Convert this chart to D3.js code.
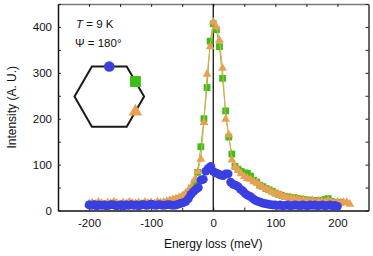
<!DOCTYPE html>
<html><head><meta charset="utf-8">
<script src="https://cdn.jsdelivr.net/npm/d3@7"></script>
<style>body{margin:0;background:#fff}svg{display:block;font-family:"Liberation Sans",Arial,sans-serif}</style>
</head><body><svg id="c" width="373" height="256"></svg>
<script>
// ---- data ----
const blueE = d3.range(-200, 205, 4);
const blueI = [12,11,13,10,12,11,12,10,11,13,12,10,11,12,10,12,11,13,11,12,10,12,13,11,12,14,12,11,13,12,11,12,13,12,11,12,
  14,16,17,20,26,35,41,46,50,66,68,86,92,96,85,82,80,77,76,80,80,62,57,55,52,46,42,36,33,30,26,22,20,18,16,15,14,13,12,
  12,11,12,10,11,12,10,11,12,11,10,12,11,10,12,11,12,10,11,12,10,11,12,10,11,9];
const orangeE = d3.range(-200, 225, 5);
const orangeI = [15,17,14,18,16,13,17,15,19,16,14,17,15,18,16,15,17,14,18,16,17,15,19,17,18,
  20,22,24,26,28,31,36,44,52,67,85,112,192,297,357,411,400,371,310,199,165,110,95,88,80,74,70,
  68,63,60,55,50,47,44,40,37,35,33,30,28,27,26,25,22,23,21,20,22,19,21,20,19,22,18,17,18,16,17,18,14];
const greenE = d3.range(-200, 210, 5);
const greenI = [13,15,12,16,14,12,15,13,16,14,12,15,13,16,14,13,15,12,16,14,15,13,16,15,16,
  18,20,22,24,26,29,34,40,49,60,83,139,200,268,369,407,394,357,288,217,160,123,96,90,85,82,81,
  75,66,62,55,52,48,45,42,38,35,33,31,30,28,28,26,25,24,22,23,21,22,20,22,24,26,20,18,17,18];
const xTicks = d3.range(-200, 201, 50);
const yTicks = d3.range(0, 451, 50);

// ---- chart ----
const svg = d3.select("#c");
const L = 58, R = 368.5, T = 4, B = 210.5;
const x = d3.scaleLinear().domain([-250, 250]).range([L, R]);
const y = d3.scaleLinear().domain([0, 450]).range([B, T]);
const fmt = d => d % 100 === 0 ? String(d) : "";
const C = {blue:"#3a3fe2", green:"#3cbf14", orange:"#eaa052"};

function styleAxis(g, col){
  g.select(".domain").attr("stroke", col).attr("stroke-width", 1.5);
  g.selectAll(".tick line").attr("stroke", "#222").attr("stroke-width", 1);
  g.selectAll(".tick text").attr("fill", "#111").attr("font-size", 11.5).attr("font-family", '"Liberation Sans",Arial,sans-serif');
}
svg.append("g").attr("transform", `translate(0,${B})`)
  .call(d3.axisBottom(x).tickValues(xTicks).tickSizeInner(-3).tickSizeOuter(0).tickPadding(8).tickFormat(fmt))
  .call(g => styleAxis(g, "#111"));
svg.append("g").attr("transform", `translate(0,${T})`)
  .call(d3.axisTop(x).tickValues(xTicks).tickSizeInner(-3).tickSizeOuter(0).tickFormat(""))
  .call(g => styleAxis(g, "#777"));
svg.append("g").attr("transform", `translate(${L},0)`)
  .call(d3.axisLeft(y).tickValues(yTicks).tickSizeInner(-3).tickSizeOuter(0).tickPadding(6).tickFormat(fmt))
  .call(g => styleAxis(g, "#111"));
svg.append("g").attr("transform", `translate(${R},0)`)
  .call(d3.axisRight(y).tickValues(yTicks).tickSizeInner(-3).tickSizeOuter(0).tickFormat(""))
  .call(g => styleAxis(g, "#333"));

// zero line
svg.append("line").attr("x1", x(0)).attr("x2", x(0)).attr("y1", T).attr("y2", B)
  .attr("stroke", "#000").attr("stroke-width", 1.2);

// labels
svg.append("text").attr("x", (L+R)/2 - 0).attr("y", 248).attr("text-anchor", "middle")
  .attr("font-size", 12).attr("fill", "#111").text("Energy loss (meV)");
svg.append("text").attr("transform", `translate(16,${(T+B)/2}) rotate(-90)`).attr("text-anchor", "middle")
  .attr("font-size", 12).attr("fill", "#111").text("Intensity (A. U.)");

// series
const line = d3.line().x(d => x(d[0])).y(d => y(d[1]));
const gData = d3.zip(greenE, greenI), oData = d3.zip(orangeE, orangeI), bData = d3.zip(blueE, blueI);
svg.append("path").datum(gData).attr("d", line).attr("fill", "none").attr("stroke", "#66cc33").attr("stroke-width", 1);
svg.append("g").selectAll("path").data(gData).join("path")
  .attr("transform", d => `translate(${x(d[0])},${y(d[1])})`)
  .attr("d", d3.symbol(d3.symbolSquare, 46)).attr("fill", C.green);
svg.append("path").datum(oData).attr("d", line).attr("fill", "none").attr("stroke", "#e6a85a").attr("stroke-width", 1);
svg.append("g").selectAll("path").data(oData).join("path")
  .attr("transform", d => `translate(${x(d[0])},${y(d[1])})`)
  .attr("d", d3.symbol(d3.symbolTriangle, 34)).attr("fill", C.orange);
svg.append("g").selectAll("circle").data(bData).join("circle")
  .attr("cx", d => x(d[0])).attr("cy", d => y(d[1])).attr("r", 4.4).attr("fill", C.blue);

// annotations
const t1 = svg.append("text").attr("x", 76).attr("y", 27.5).attr("font-size", 11.5).attr("fill", "#111");
t1.append("tspan").attr("font-style", "italic").text("T");
t1.append("tspan").text(" = 9 K");
svg.append("text").attr("x", 75).attr("y", 47).attr("font-size", 11.5).attr("fill", "#111").text("Ψ = 180°");

// hexagon inset
const cx = 109.3, cy = 96.6, Rh = 34.8;
const hex = d3.range(6).map(i => [cx + Rh*Math.cos(i*Math.PI/3), cy - Rh*Math.sin(i*Math.PI/3)]);
svg.append("path").attr("d", d3.line()(hex) + "Z").attr("fill", "none").attr("stroke", "#1a1a1a").attr("stroke-width", 2);
const hh = Rh*Math.sin(Math.PI/3);
svg.append("circle").attr("cx", cx).attr("cy", cy - hh).attr("r", 5.3).attr("fill", C.blue);
svg.append("path").attr("transform", `translate(${cx + Rh*0.75},${cy - hh/2})`)
  .attr("d", d3.symbol(d3.symbolSquare, 118)).attr("fill", C.green);
svg.append("path").attr("transform", `translate(${cx + Rh*0.75},${cy + hh/2})`)
  .attr("d", d3.symbol(d3.symbolTriangle, 80)).attr("fill", C.orange);
</script></body></html>
